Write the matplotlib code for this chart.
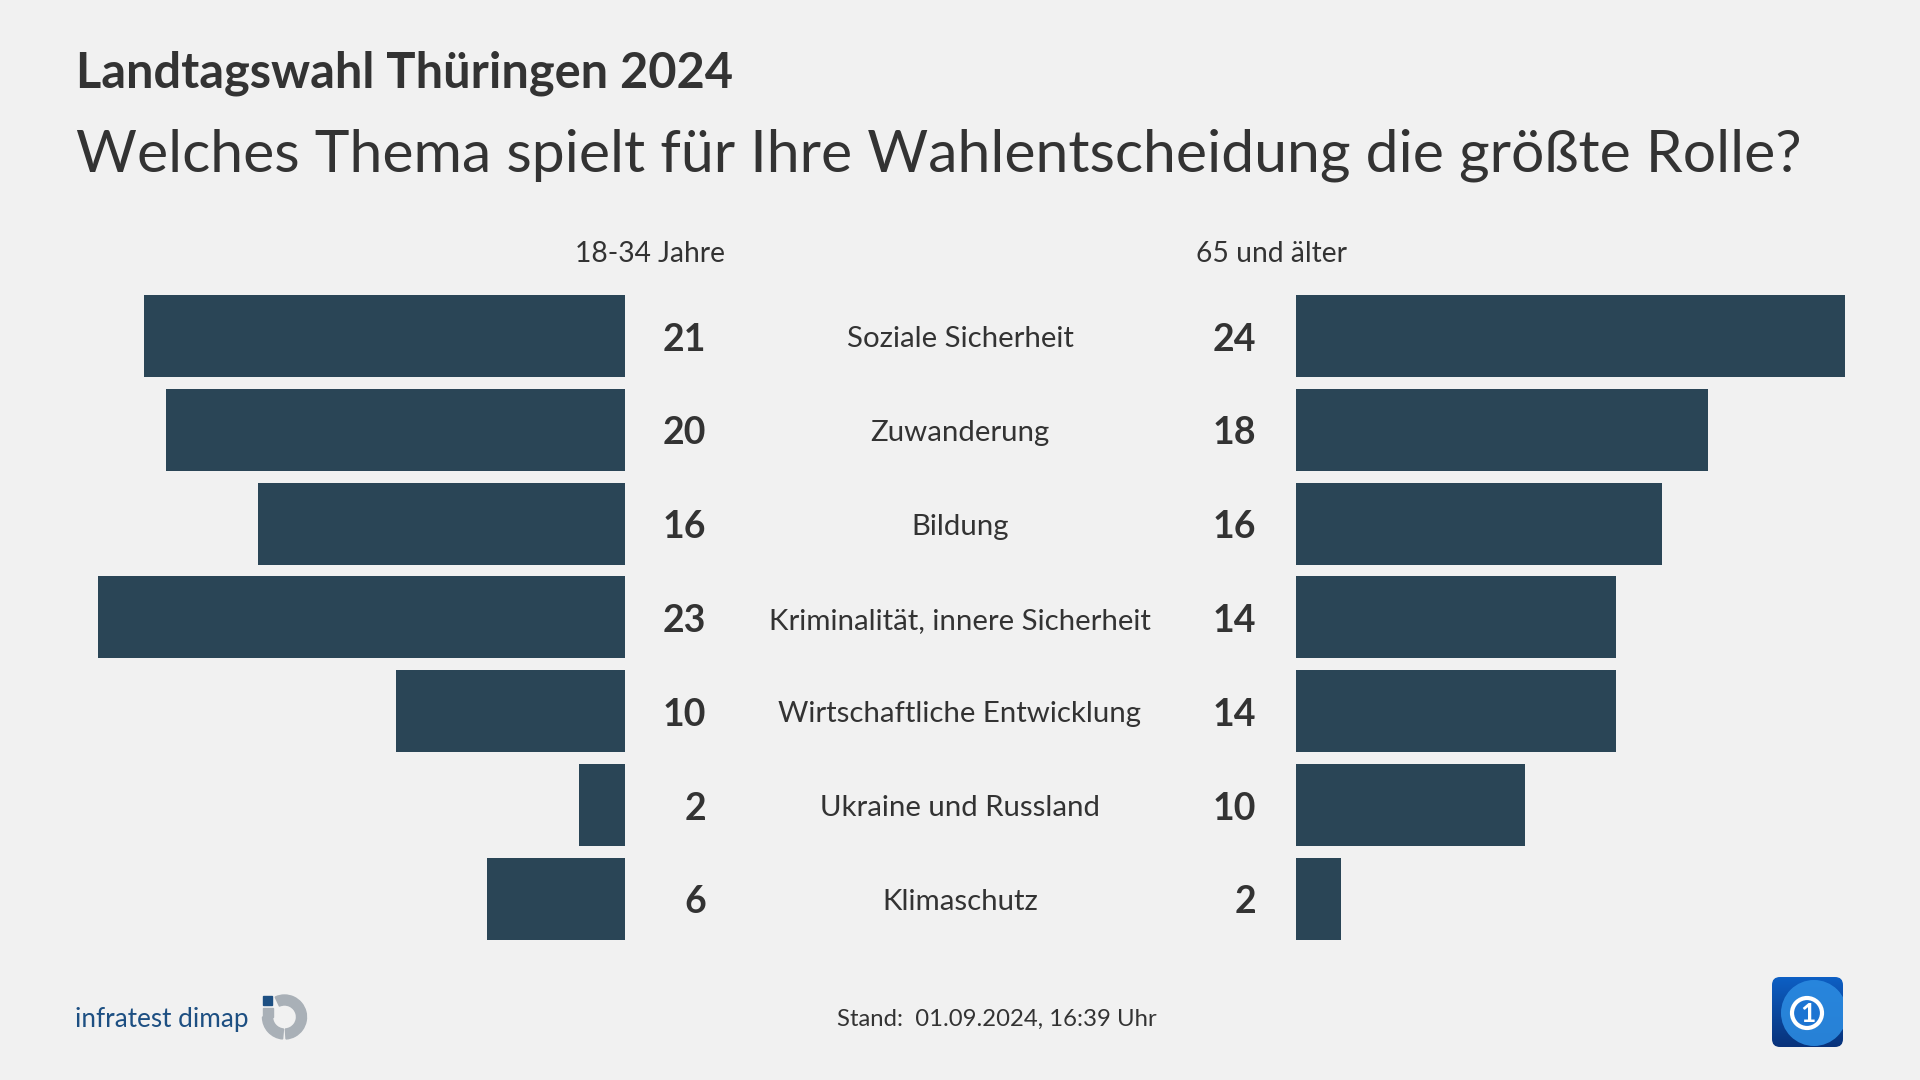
import numpy as np
import matplotlib
matplotlib.use("Agg")
import matplotlib.pyplot as plt
from matplotlib.transforms import blended_transform_factory
from matplotlib.patches import Wedge, Rectangle, FancyBboxPatch, Circle

# data
themen = ["Soziale Sicherheit", "Zuwanderung", "Bildung",
          "Kriminalität, innere Sicherheit", "Wirtschaftliche Entwicklung",
          "Ukraine und Russland", "Klimaschutz"]
jung = [21, 20, 16, 23, 10, 2, 6]
alt = [24, 18, 16, 14, 14, 10, 2]
kopf_links = "18-34 Jahre"
kopf_rechts = "65 und älter"
titel = "Landtagswahl Thüringen 2024"
frage = "Welches Thema spielt für Ihre Wahlentscheidung die größte Rolle?"
stand = "Stand:  01.09.2024, 16:39 Uhr"

W, H = 1920, 1080
BG = "#f1f1f1"
BAR = "#2a4556"
TXT = "#333333"
FONT = "Lato"

plt.rcParams["font.family"] = [FONT, "DejaVu Sans"]

fig = plt.figure(figsize=(W / 100, H / 100), dpi=100, facecolor=BG)
renderer = fig.canvas.get_renderer()


def px(x, y):
    return x / W, 1 - y / H


def fit(t, width):
    # adjust font size so the text has the measured width
    w = t.get_window_extent(renderer).width
    t.set_fontsize(t.get_fontsize() * width / w)


# header
t = fig.text(*px(76, 87), titel, fontsize=32, fontweight="bold", color=TXT,
             ha="left", va="baseline")
fit(t, 658)
t = fig.text(*px(76, 172), frage, fontsize=42, color=TXT,
             ha="left", va="baseline")
fit(t, 1725)

# bar geometry in pixels
unit = 22.9
row = 93.8
top = 336 - row / 2
ymax = 25
l_right = 624.5
r_left = 1295.5

ax_h = 7 * row
axl = fig.add_axes([(l_right - ymax * unit) / W, 1 - (top + ax_h) / H,
                    ymax * unit / W, ax_h / H])
axr = fig.add_axes([r_left / W, 1 - (top + ax_h) / H,
                    ymax * unit / W, ax_h / H])

pos = np.arange(len(themen))
for ax, vals in ((axl, jung), (axr, alt)):
    ax.barh(pos, vals, height=0.874, color=BAR)
    ax.set_ylim(len(themen) - 0.5, -0.5)
    ax.set_xlim(0, ymax)
    ax.axis("off")
    ax.set_facecolor("none")
axl.invert_xaxis()

tr_l = blended_transform_factory(fig.transFigure, axl.transData)
cat_texts = []
for i in pos:
    fig.text(706 / W, i + 0.155, str(jung[i]), transform=tr_l, ha="right",
             va="baseline", fontsize=27, fontweight="bold", color=TXT)
    fig.text(1256 / W, i + 0.155, str(alt[i]), transform=tr_l, ha="right",
             va="baseline", fontsize=27, fontweight="bold", color=TXT)
    cat_texts.append(fig.text(960 / W, i + 0.12, themen[i], transform=tr_l,
                              ha="center", va="baseline", fontsize=20,
                              color=TXT))

w0 = cat_texts[0].get_window_extent(renderer).width
scale = 227 / w0
for t in cat_texts:
    t.set_fontsize(t.get_fontsize() * scale)

# column heads
t1 = fig.text(*px(650, 262), kopf_links, ha="center", va="baseline",
              fontsize=19, color=TXT)
fit(t1, 150)
t2 = fig.text(*px(1272, 262), kopf_rechts, ha="center", va="baseline",
              fontsize=19, color=TXT)
t2.set_fontsize(t1.get_fontsize())

# footer
t = fig.text(*px(997, 1026), stand, ha="center", va="baseline",
             fontsize=17, color=TXT)
fit(t, 320)

t = fig.text(*px(75, 1027), "infratest dimap", ha="left", va="baseline",
             fontsize=20, color="#1d4f82")
fit(t, 174)

# logos, drawn in pixel space
lx = fig.add_axes([0, 0, 1, 1], facecolor="none")
lx.set_xlim(0, W)
lx.set_ylim(H, 0)
lx.axis("off")

# infratest dimap mark
grey = "#a9b0b7"
cx, cy, r = 284.5, 1017, 22
lx.add_patch(Wedge((cx, cy), r, -115, 86, width=10, color=grey))
lx.add_patch(Wedge((cx, cy), r, 95, 180, width=10, color=grey))
lx.add_patch(Rectangle((cx - r, 1008), 10, cy - 1008, color=grey))
lx.add_patch(Rectangle((262.5, 996), 9.5, 9, color="#1d4f82"))

# ARD mark
box = FancyBboxPatch((1772, 977), 71, 70,
                     boxstyle="round,pad=0,rounding_size=8",
                     facecolor="none", edgecolor="none")
lx.add_patch(box)
grad = np.linspace(0, 1, 64)[:, None]
cmap = matplotlib.colors.LinearSegmentedColormap.from_list(
    "ard", ["#0d5fc4", "#08327a"])
img = lx.imshow(grad, extent=(1772, 1843, 1047, 977), cmap=cmap,
                aspect="auto", zorder=2)
img.set_clip_path(box)
globe = Circle((1814, 1013), 33, facecolor="#2b8ae0", edgecolor="none",
               zorder=3, alpha=0.9)
lx.add_patch(globe)
globe.set_clip_path(box)
lx.add_patch(Circle((1807, 1013), 15, facecolor="#1c74d2", edgecolor="white",
                    lw=3, zorder=4))
lx.text(1807.5, 1014, "1", ha="center", va="center", fontsize=19,
        fontweight="bold", color="white", zorder=5)
lx.set_xlim(0, W)
lx.set_ylim(H, 0)

fig.savefig("out.png", dpi=100, facecolor=BG)
